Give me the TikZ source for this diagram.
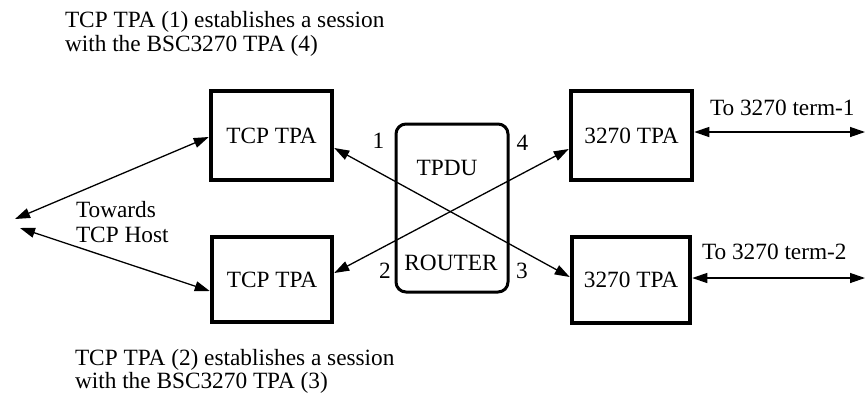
\documentclass[tikz,border=0pt]{standalone}
\usepackage{fontspec}
\setmainfont{Liberation Serif}
\usetikzlibrary{arrows.meta}
\tikzset{
  every node/.style={font=\fontsize{23.3}{28}\selectfont, inner sep=0pt, outer sep=0pt},
  tpabox/.style={draw, line width=4.5pt, outer sep=2.25pt},
  routerbox/.style={draw, line width=3pt, rounded corners=10pt, outer sep=1.5pt},
  conn/.style={line width=1.3pt, {Triangle[length=15pt,width=10pt]}-{Triangle[length=15pt,width=10pt]}},
  txt/.style={anchor=base west},
  ctxt/.style={anchor=base}
}
\begin{document}
\begin{tikzpicture}[x=1pt,y=-1pt]
\useasboundingbox (0,0) rectangle (865,392);
% boxes
\node[tpabox, minimum width=121pt, minimum height=89pt] (tcp1) at (271.5,135.5) {TCP TPA};
\node[tpabox, minimum width=120pt, minimum height=85pt] (tcp2) at (272,279.5) {TCP TPA};
\node[tpabox, minimum width=121pt, minimum height=89pt] (t1) at (631.5,135.5) {3270 TPA};
\node[tpabox, minimum width=118pt, minimum height=86pt] (t2) at (631,280) {3270 TPA};
\node[routerbox, minimum width=112pt, minimum height=168pt] (rt) at (452,208) {};
\node[ctxt] (tpdu) at (447,175) {TPDU};
\node[ctxt] (router) at (451,270) {ROUTER};
% port numbers
\node[ctxt] (n1) at (378.5,148) {1};
\node[ctxt] (n2) at (385,278) {2};
\node[ctxt] (n4) at (522.5,150) {4};
\node[ctxt] (n3) at (522,278) {3};
% free ends
\coordinate (hostA) at (15,219);
\coordinate (hostB) at (20,228);
\coordinate (term1) at (865,132);
\coordinate (term2) at (865,278);
% connectors
\draw[conn] (hostA) -- ([yshift=-1.5pt]tcp1.west);
\draw[conn] (hostB) -- ([yshift=-11.5pt]tcp2.west);
\draw[conn] ([yshift=-12.5pt]tcp1.east) -- ([yshift=3pt]t2.west);
\draw[conn] ([yshift=6.5pt]tcp2.east) -- ([yshift=-13.5pt]t1.west);
\draw[conn] ([yshift=3.5pt]t1.east) -- (term1);
\draw[conn] ([yshift=2pt]t2.east) -- (term2);
% labels
\node[txt] (top1) at (65,27) {TCP TPA (1) establishes a session};
\node[txt] (top2) at (65,51) {with the BSC3270 TPA (4)};
\node[txt] (bot1) at (75,365) {TCP TPA (2) establishes a session};
\node[txt] (bot2) at (75,388) {with the BSC3270 TPA (3)};
\node[txt] (tw1) at (76,217) {Towards};
\node[txt] (tw2) at (76,242) {TCP Host};
\node[txt] (lt1) at (710,115) {To 3270 term-1};
\node[txt] (lt2) at (702,259) {To 3270 term-2};
\end{tikzpicture}
\end{document}
